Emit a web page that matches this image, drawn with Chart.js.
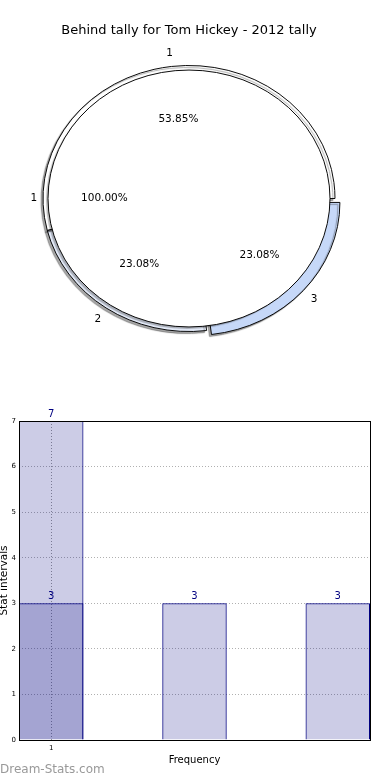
<!DOCTYPE html>
<html>
<head>
<meta charset="utf-8">
<script src="https://cdn.jsdelivr.net/npm/chart.js@4.4.1/dist/chart.umd.min.js"></script>
<style>
  html, body { margin: 0; padding: 0; background: #ffffff; }
  body { width: 390px; height: 780px; position: relative; overflow: hidden; }
  canvas { position: absolute; left: 0; }
  #pie { top: 0; }
  #bars { top: 400px; }
</style>
</head>
<body>
<canvas id="pie" width="390" height="400"></canvas>
<canvas id="bars" width="390" height="380"></canvas>
<script>
// ---------------- data ----------------
const chartTitle = 'Behind tally for Tom Hickey - 2012 tally';
// inner (exploded) pie, matplotlib order (counter-clockwise from east)
const pieLabels = ['1', '2', '3'];
const pieValues = [7, 3, 3];
// outer full pie
const outerLabels = ['1'];
const outerValues = [100];
// bar chart
const barPositions = [0, 1, 2];
const barValues = [7, 3, 3];
const overlayPositions = [0];
const overlayValues = [3];
const xTickLabels = ['1'];
const yTickValues = [0, 1, 2, 3, 4, 5, 6, 7];
const xAxisTitle = 'Frequency';
const yAxisTitle = 'Stat intervals';
const watermark = 'Dream-Stats.com';

const FONT = '"DejaVu Sans", "Liberation Sans", sans-serif';
Chart.defaults.font.family = FONT;

// Chart.js draws clockwise; reverse to mimic matplotlib's counter-clockwise layout
const cw = arr => arr.slice().reverse();

// ---------------- pie chart ----------------
const SQUASH = 0.911;   // vertical flattening of the matplotlib pie
const pieGeom = {
  id: 'pieGeom',
  afterDatasetsUpdate(chart) {
    const ca = chart.chartArea;
    const R = Math.min(ca.right - ca.left, ca.bottom - ca.top) / 2;
    chart.data.datasets.forEach((ds, i) => {
      chart.getDatasetMeta(i).data.forEach(a => {
        a.innerRadius = 0;
        a.outerRadius = R + (ds.radiusExtra || 0);
      });
    });
  },
  beforeDatasetsDraw(chart) {
    const ctx = chart.ctx;
    const a = chart.getDatasetMeta(0).data[0];
    ctx.save();
    ctx.translate(a.x, a.y);
    ctx.scale(1, SQUASH);
    ctx.translate(-a.x, -a.y);
  },
  beforeDatasetDraw(chart, args) {
    const ctx = chart.ctx;
    ctx.shadowColor = args.index === 0 ? 'rgba(0,0,0,0.28)' : 'rgba(0,0,0,0.35)';
    ctx.shadowOffsetX = -2;
    ctx.shadowOffsetY = 2;
    ctx.shadowBlur = 1;
  },
  afterDatasetDraw(chart, args) {
    const ctx = chart.ctx;
    ctx.shadowColor = 'rgba(0,0,0,0)';
    ctx.shadowOffsetX = 0;
    ctx.shadowOffsetY = 0;
    ctx.shadowBlur = 0;
    if (args.index === 0) {
      const a = chart.getDatasetMeta(0).data[0];
      ctx.beginPath();
      ctx.arc(a.x, a.y, a.outerRadius, 0, Math.PI * 2);
      ctx.lineWidth = 1;
      ctx.strokeStyle = '#000000';
      ctx.stroke();
    }
  },
  afterDatasetsDraw(chart) {
    const ctx = chart.ctx;
    ctx.restore();
    ctx.save();
    ctx.font = '10.5px ' + FONT;
    ctx.fillStyle = '#000000';
    ctx.textAlign = 'center';
    ctx.textBaseline = 'middle';
    chart.data.datasets.forEach((ds, di) => {
      const meta = chart.getDatasetMeta(di);
      const total = ds.data.reduce((s, v) => s + v, 0);
      meta.data.forEach((a, i) => {
        const mid = (a.startAngle + a.endAngle) / 2;
        const circ = a.endAngle - a.startAngle;
        const off = (a.options.offset || 0);
        const t = off / 4 * (2 - Math.sin(Math.min(Math.PI, circ)));
        const pt = f => {
          const d = t + f * a.outerRadius;
          return { x: a.x + Math.cos(mid) * d, y: a.y + Math.sin(mid) * d * SQUASH };
        };
        const p1 = pt(1.1), p2 = pt(0.6);
        ctx.fillText(ds.sliceLabels[i], p1.x, p1.y);
        ctx.fillText((ds.data[i] / total * 100).toFixed(2) + '%', p2.x, p2.y);
      });
    });
    ctx.restore();
  }
};

new Chart(document.getElementById('pie'), {
  type: 'pie',
  data: {
    datasets: [
      {
        data: outerValues,
        sliceLabels: outerLabels,
        backgroundColor: ['#ffffff'],
        borderWidth: 0,
        offset: 0,
        radiusExtra: 0,
        clip: false
      },
      {
        data: cw(pieValues),
        sliceLabels: cw(pieLabels),
        backgroundColor: cw(['#ffffff', '#e6edfb', '#c6d8f8']),
        borderColor: '#000000',
        borderWidth: 1,
        offset: cw([0, 0, 26]),
        radiusExtra: 5,
        clip: false
      }
    ]
  },
  options: {
    responsive: false,
    devicePixelRatio: 1,
    animation: false,
    events: [],
    rotation: 90,
    hoverOffset: 0,
    layout: { padding: { left: 0, right: 12, top: 0, bottom: 60.5 } },
    plugins: {
      legend: { display: false },
      tooltip: { enabled: false },
      title: {
        display: true,
        text: chartTitle,
        color: '#000000',
        font: { size: 13, weight: 'normal', family: FONT },
        padding: { top: 22.8, bottom: 19.1 }
      }
    }
  },
  plugins: [pieGeom]
});

// ---------------- bar chart ----------------
const BAR_FRAC = 0.45;
const barDecor = {
  id: 'barDecor',
  afterDatasetsDraw(chart) {
    const ctx = chart.ctx;
    ctx.save();
    ctx.font = '10px ' + FONT;
    ctx.fillStyle = '#000080';
    ctx.textAlign = 'center';
    ctx.textBaseline = 'bottom';
    chart.data.datasets.forEach((ds, di) => {
      chart.getDatasetMeta(di).data.forEach((bar, i) => {
        ctx.fillText(String(ds.data[i].y), bar.x, bar.y - 2);
      });
    });
    ctx.restore();
  },
  afterDraw(chart) {
    const ctx = chart.ctx;
    const ca = chart.chartArea;
    ctx.save();
    ctx.strokeStyle = '#000000';
    ctx.lineWidth = 1;
    ctx.strokeRect(Math.round(ca.left) + 0.5, Math.round(ca.top) + 0.5,
                   Math.round(ca.right - ca.left), Math.round(ca.bottom - ca.top));
    ctx.font = '12px ' + FONT;
    ctx.fillStyle = '#999999';
    ctx.textAlign = 'left';
    ctx.textBaseline = 'middle';
    ctx.fillText(watermark, 0, chart.height - 10);
    ctx.restore();
  }
};

const barStyle = {
  backgroundColor: 'rgba(0,0,128,0.2)',
  borderColor: '#000080',
  borderWidth: 1,
  grouped: false,
  categoryPercentage: 1,
  barPercentage: BAR_FRAC
};

new Chart(document.getElementById('bars'), {
  type: 'bar',
  data: {
    datasets: [
      Object.assign({ data: overlayValues.map((v, i) => ({ x: overlayPositions[i], y: v })) }, barStyle),
      Object.assign({ data: barValues.map((v, i) => ({ x: barPositions[i], y: v })) }, barStyle)
    ]
  },
  options: {
    responsive: false,
    devicePixelRatio: 1,
    animation: false,
    events: [],
    layout: { padding: { left: 0, right: 20, top: 21, bottom: 0 } },
    plugins: { legend: { display: false }, tooltip: { enabled: false } },
    scales: {
      x: {
        type: 'linear',
        min: barPositions[0] - BAR_FRAC / 2,
        max: barPositions[barPositions.length - 1] + BAR_FRAC / 2,
        offset: false,
        afterBuildTicks: axis => { axis.ticks = overlayPositions.map(v => ({ value: v })); },
        ticks: {
          callback: (v, i) => xTickLabels[i],
          color: '#000000',
          font: { size: 7 },
          padding: 4,
          maxRotation: 0,
          autoSkip: false
        },
        grid: { offset: false, color: '#999999', borderDash: [1, 2], drawTicks: false, lineWidth: 1 },
        border: { display: false, dash: [1, 2] },
        title: {
          display: true, text: xAxisTitle, color: '#000000',
          font: { size: 10 }, padding: { top: 0, bottom: 14 }
        },
        afterFit: axis => { axis.height = 40; }
      },
      y: {
        min: yTickValues[0],
        max: yTickValues[yTickValues.length - 1],
        afterBuildTicks: axis => { axis.ticks = yTickValues.map(v => ({ value: v })); },
        ticks: { color: '#000000', font: { size: 7 }, padding: 3 },
        grid: { color: '#b0b0b0', borderDash: [1, 2], drawTicks: false, lineWidth: 1 },
        border: { display: false, dash: [1, 2] },
        title: {
          display: true, text: yAxisTitle, color: '#000000',
          font: { size: 10.5 }, padding: { top: -2, bottom: 0 }
        },
        afterFit: axis => { axis.width = 19; }
      }
    }
  },
  plugins: [barDecor]
});
</script>
</body>
</html>
